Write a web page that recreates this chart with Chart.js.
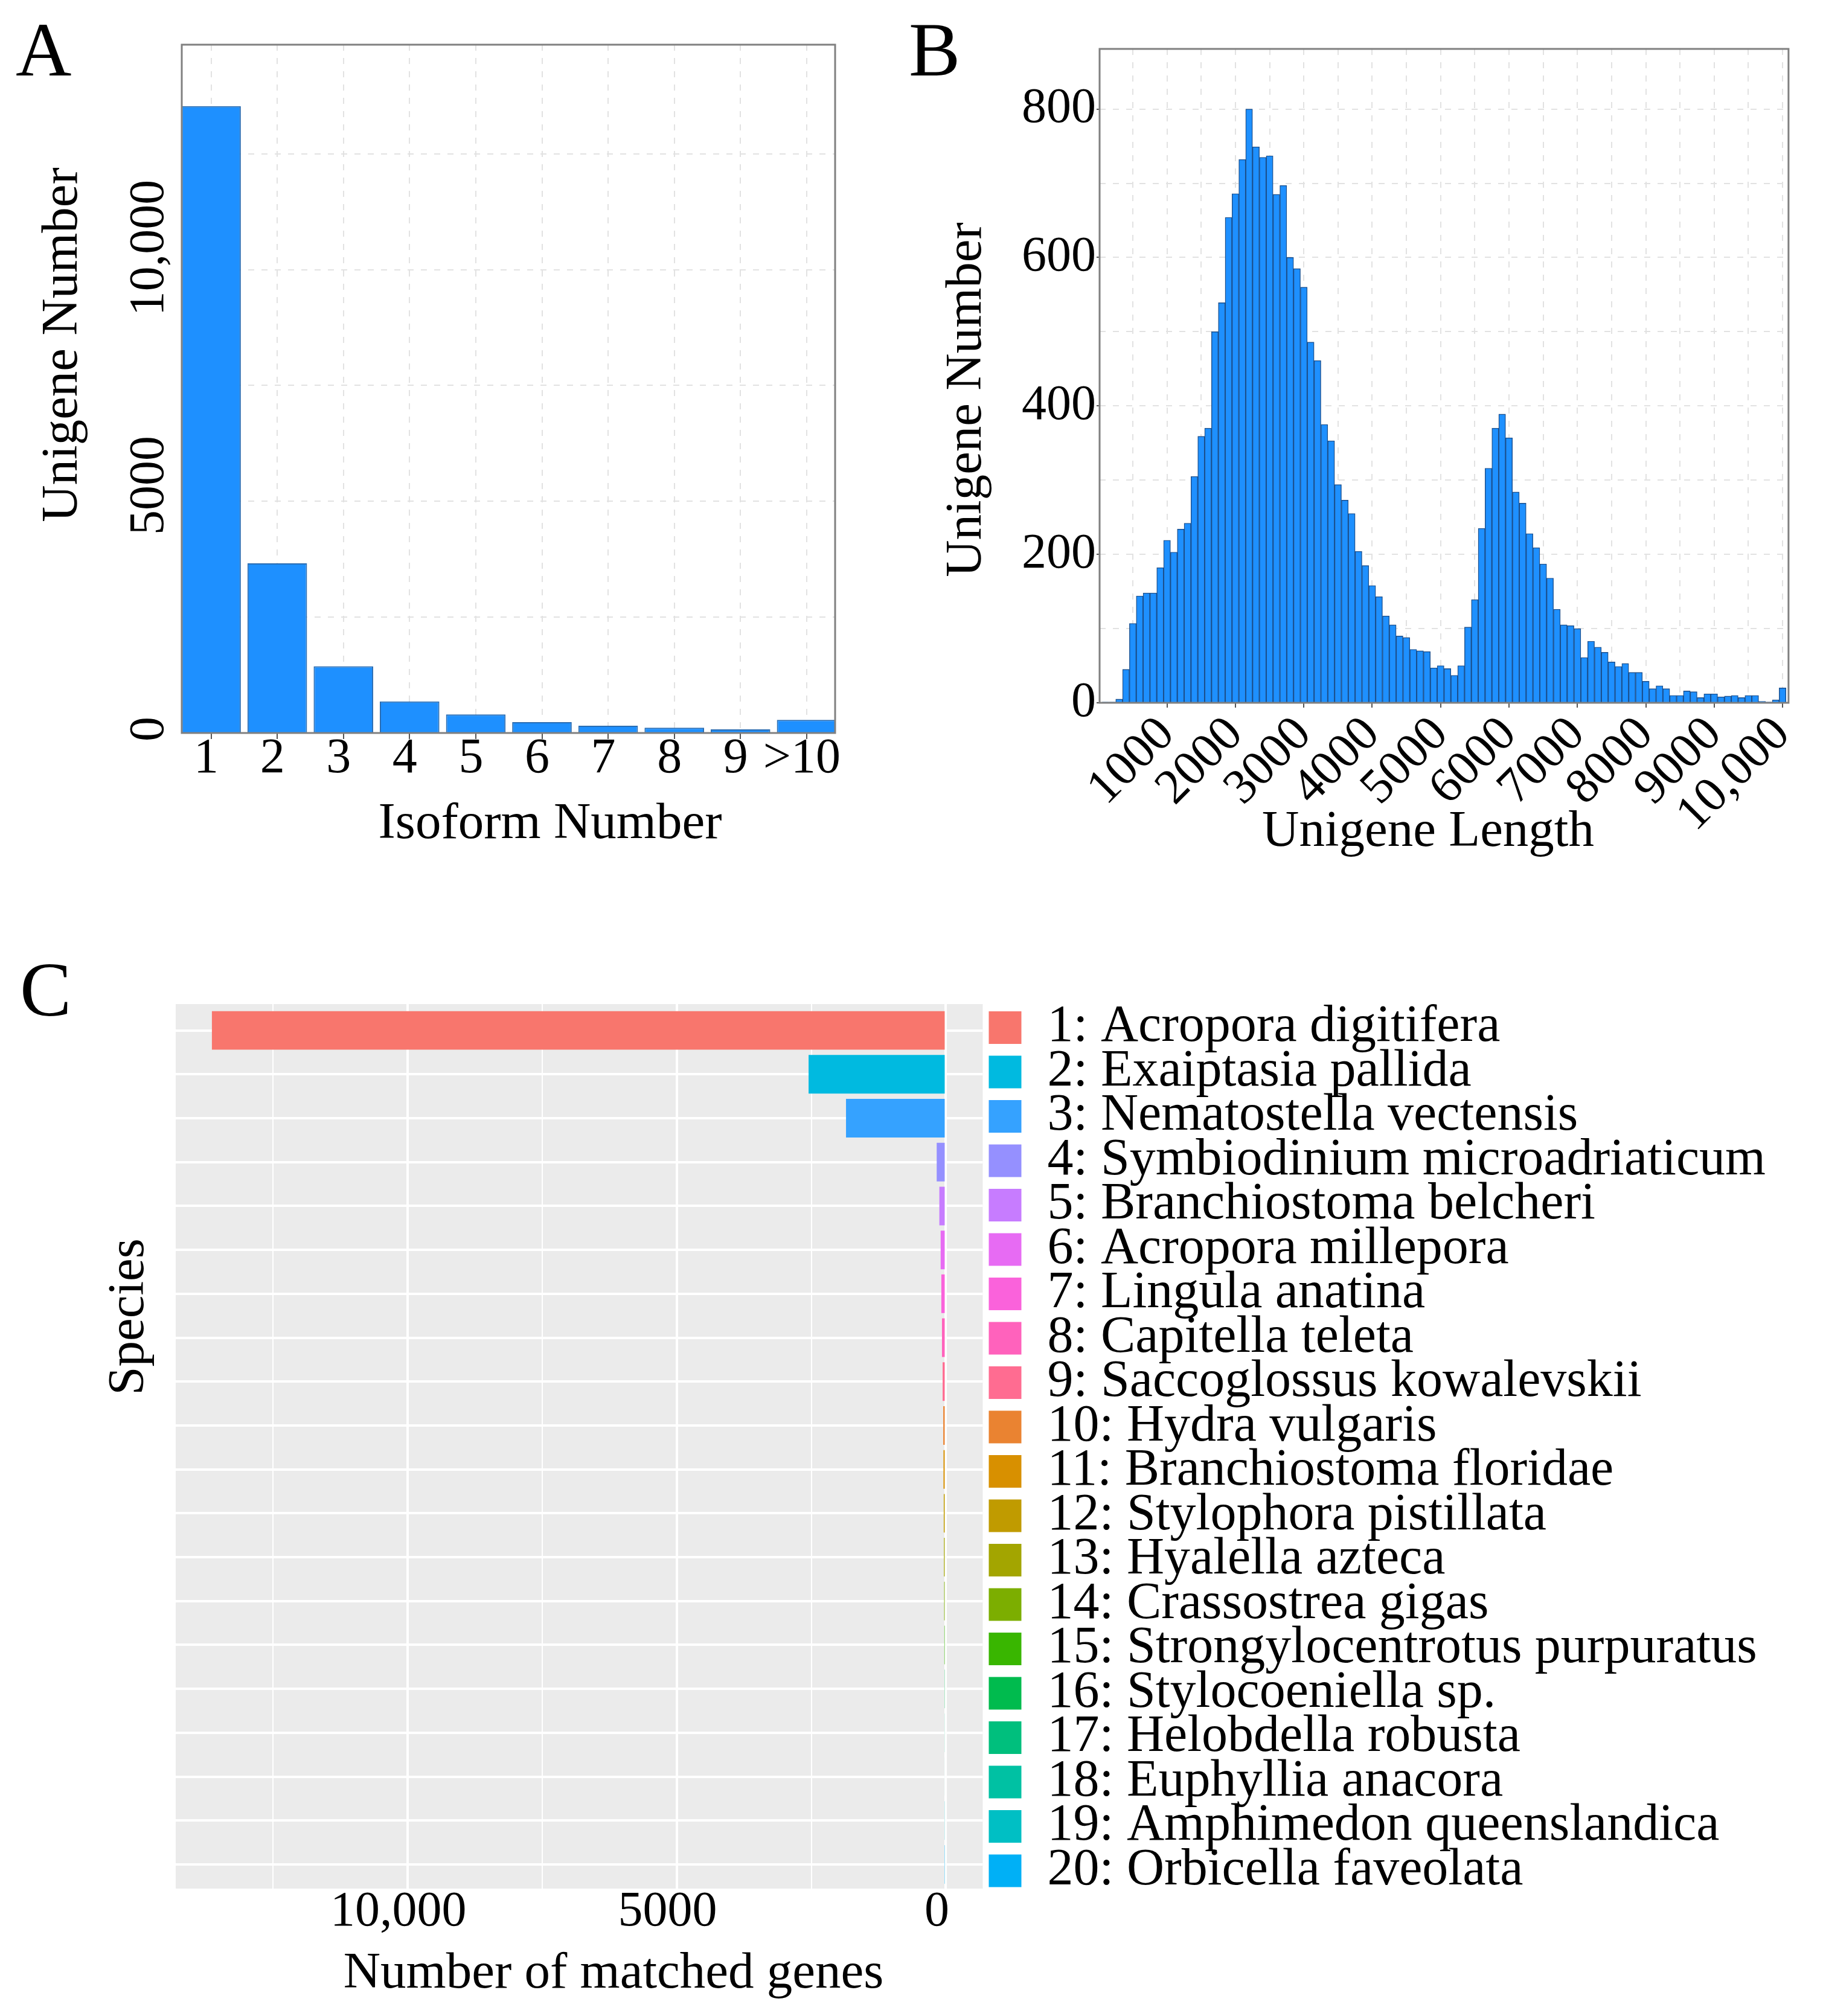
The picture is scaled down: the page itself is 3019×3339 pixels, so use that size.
<!DOCTYPE html>
<html lang="en">
<head>
<meta charset="utf-8">
<title>Isoforms, unigene lengths and matched species</title>
<script src="https://cdn.jsdelivr.net/npm/chart.js@4.4.1/dist/chart.umd.min.js"></script>
<style>
  html, body { margin: 0; padding: 0; background: #ffffff; }
  #figure { position: relative; width: 3019px; height: 3339px; overflow: hidden; }
  #figure canvas { position: absolute; }
</style>
</head>
<body>
<div id="figure">
  <canvas id="chartA" width="1500" height="1500" style="left:0;top:0;width:1500px;height:1500px"></canvas>
  <canvas id="chartB" width="1519" height="1500" style="left:1500px;top:0;width:1519px;height:1500px"></canvas>
  <canvas id="chartC" width="3019" height="1779" style="left:0;top:1560px;width:3019px;height:1779px"></canvas>
</div>
<script>
// ---- A: unigenes per isoform count ----
const isoformLabels = ['1', '2', '3', '4', '5', '6', '7', '8', '9', '>10'];
const isoformCounts = [13530, 3660, 1440, 680, 400, 235, 155, 115, 78, 283];
const isoformYTicks = [0, 5000, 10000];
const isoformYTickLabels = ['0', '5000', '10,000'];
const isoformGrid = [0, 2500, 5000, 7500, 10000, 12500];

// ---- B: unigene length histogram (bin centres, 100 bp bins) ----
const lengthBins = [
  100, 200, 300, 400, 500, 600, 700, 800, 900, 1000,
  1100, 1200, 1300, 1400, 1500, 1600, 1700, 1800, 1900, 2000,
  2100, 2200, 2300, 2400, 2500, 2600, 2700, 2800, 2900, 3000,
  3100, 3200, 3300, 3400, 3500, 3600, 3700, 3800, 3900, 4000,
  4100, 4200, 4300, 4400, 4500, 4600, 4700, 4800, 4900, 5000,
  5100, 5200, 5300, 5400, 5500, 5600, 5700, 5800, 5900, 6000,
  6100, 6200, 6300, 6400, 6500, 6600, 6700, 6800, 6900, 7000,
  7100, 7200, 7300, 7400, 7500, 7600, 7700, 7800, 7900, 8000,
  8100, 8200, 8300, 8400, 8500, 8600, 8700, 8800, 8900, 9000,
  9100, 9200, 9300, 9400, 9500, 9600, 9700, 9800, 9900, 10000
];
const lengthCounts = [
  1, 1, 5, 45, 107, 144, 148, 148, 182, 219,
  203, 234, 242, 305, 359, 370, 500, 539, 654, 686,
  732, 800, 749, 735, 737, 685, 697, 600, 585, 560,
  486, 461, 375, 353, 294, 273, 255, 204, 185, 158,
  143, 117, 105, 90, 88, 72, 70, 69, 47, 50,
  46, 37, 50, 102, 139, 235, 316, 370, 389, 357,
  284, 269, 228, 209, 187, 168, 126, 105, 104, 100,
  61, 83, 75, 68, 55, 49, 53, 41, 41, 29,
  19, 23, 19, 10, 10, 16, 15, 7, 12, 12,
  8, 9, 10, 7, 10, 10, 2, 1, 4, 20
];
const lengthXTicks = [1000, 2000, 3000, 4000, 5000, 6000, 7000, 8000, 9000, 10000];
const lengthXTickLabels = ['1000', '2000', '3000', '4000', '5000', '6000', '7000', '8000', '9000', '10,000'];
const lengthYTicks = [0, 200, 400, 600, 800];
const lengthYTickLabels = ['0', '200', '400', '600', '800'];
const lengthGridX = [500, 1000, 1500, 2000, 2500, 3000, 3500, 4000, 4500, 5000,
  5500, 6000, 6500, 7000, 7500, 8000, 8500, 9000, 9500, 10000];
const lengthGridY = [0, 100, 200, 300, 400, 500, 600, 700, 800];

// ---- C: matched genes per species ----
const speciesNames = [
  'Acropora digitifera', 'Exaiptasia pallida', 'Nematostella vectensis',
  'Symbiodinium microadriaticum', 'Branchiostoma belcheri', 'Acropora millepora',
  'Lingula anatina', 'Capitella teleta', 'Saccoglossus kowalevskii', 'Hydra vulgaris',
  'Branchiostoma floridae', 'Stylophora pistillata', 'Hyalella azteca', 'Crassostrea gigas',
  'Strongylocentrotus purpuratus', 'Stylocoeniella sp.', 'Helobdella robusta',
  'Euphyllia anacora', 'Amphimedon queenslandica', 'Orbicella faveolata'
];
const speciesCounts = [13630, 2550, 1855, 171, 122, 98, 85, 73, 61, 49,
  45, 40, 36, 32, 29, 26, 24, 22, 20, 18];
const matchedXTicks = [0, 5000, 10000];
const matchedXTickLabels = ['0', '5000', '10,000'];
const matchedGrid = [0, 2500, 5000, 7500, 10000, 12500];

// ---- styles ----
const SERIF = "'Liberation Serif', 'Times New Roman', serif";
const BAR_BLUE = '#1E90FF';
const DASHED_GRID = '#e2e2e2';
const speciesColors = ['#F8766D', '#00BAE0', '#35A2FF', '#9590FF', '#C77CFF', '#E76BF3',
  '#FA62DB', '#FF62BC', '#FF6C91', '#EA8331', '#D89000', '#C09B00', '#A3A500', '#7CAE00',
  '#39B600', '#00BB4E', '#00BF7D', '#00C1A3', '#00BFC4', '#00B0F6'];

Chart.defaults.font.family = SERIF;
Chart.defaults.font.size = 82;
Chart.defaults.color = '#000';
Chart.defaults.animation = false;

const setTicks = values => scale => { scale.ticks = values.map(value => ({ value })); };
const labelFrom = (values, labels) => v => {
  const i = values.indexOf(v);
  return i < 0 ? '' : labels[i];
};
const markOnly = values => c => (c.tick && values.includes(c.tick.value)) ? '#555' : 'rgba(0,0,0,0)';

// grey panel fill (C) or panel outline (A, B)
const panelFrame = {
  id: 'panelFrame',
  beforeDraw(chart, args, opts) {
    if (!opts.fill) return;
    const { ctx, chartArea: a } = chart;
    ctx.save();
    ctx.fillStyle = opts.fill;
    ctx.fillRect(a.left, a.top, a.width, a.height);
    ctx.restore();
  },
  afterDraw(chart, args, opts) {
    if (!opts.stroke) return;
    const { ctx, chartArea: a } = chart;
    ctx.save();
    ctx.strokeStyle = opts.stroke;
    ctx.lineWidth = opts.width || 3;
    ctx.strokeRect(a.left, a.top, a.width, a.height);
    ctx.restore();
  }
};

// panel letter and axis titles where the figure puts them
const panelText = {
  id: 'panelText',
  afterDraw(chart, args, opts) {
    const ctx = chart.ctx;
    (opts.items || []).forEach(t => {
      ctx.save();
      ctx.font = `${t.size || 85}px ${SERIF}`;
      ctx.fillStyle = '#000';
      ctx.textAlign = t.align || 'center';
      ctx.textBaseline = 'alphabetic';
      ctx.translate(t.x, t.y);
      if (t.vertical) ctx.rotate(-Math.PI / 2);
      ctx.fillText(t.text, 0, 0);
      ctx.restore();
    });
  }
};

// panel A has its y tick labels turned upright
const uprightTicks = {
  id: 'uprightTicks',
  afterDraw(chart, args, opts) {
    const scale = chart.scales.y;
    const ctx = chart.ctx;
    ctx.save();
    ctx.font = `82px ${SERIF}`;
    ctx.fillStyle = '#000';
    ctx.textAlign = 'left';
    ctx.textBaseline = 'alphabetic';
    opts.values.forEach((v, i) => {
      const label = opts.labels[i];
      const w = ctx.measureText(label).width;
      ctx.save();
      ctx.translate(opts.x, scale.getPixelForValue(v) + w * opts.shift);
      ctx.rotate(-Math.PI / 2);
      ctx.fillText(label, 0, 0);
      ctx.restore();
    });
    ctx.restore();
  }
};

// A
new Chart(document.getElementById('chartA'), {
  type: 'bar',
  data: {
    datasets: [{
      data: isoformLabels.map((_, i) => ({ x: i + 1, y: isoformCounts[i] })),
      backgroundColor: BAR_BLUE,
      borderColor: '#2a6db3',
      borderWidth: 2,
      barPercentage: 0.9,
      categoryPercentage: 1
    }]
  },
  options: {
    responsive: false,
    devicePixelRatio: 1,
    layout: { padding: { top: 74, right: 117, bottom: 0, left: 0 } },
    plugins: {
      legend: { display: false },
      tooltip: { enabled: false },
      panelFrame: { stroke: '#808080', width: 3 },
      uprightTicks: { values: isoformYTicks, labels: isoformYTickLabels, x: 270, shift: 0.34 },
      panelText: { items: [
        { text: 'A', x: 26, y: 125, size: 128, align: 'left' },
        { text: 'Unigene Number', x: 127, y: 571, vertical: true },
        { text: 'Isoform Number', x: 911, y: 1388 }
      ] }
    },
    scales: {
      x: {
        type: 'linear', offset: false, min: 0.557, max: 10.43,
        afterBuildTicks: setTicks(isoformLabels.map((_, i) => i + 1)),
        afterFit: s => { s.height = 286; },
        ticks: { callback: v => isoformLabels[v - 1], padding: -16, labelOffset: -8, autoSkip: false, maxRotation: 0 },
        grid: { offset: false, color: DASHED_GRID, lineWidth: 2, tickLength: 10, tickWidth: 2, tickColor: '#555' },
        border: { display: false, dash: [10, 12] }
      },
      y: {
        type: 'linear', min: 0, max: 14855,
        afterBuildTicks: setTicks(isoformGrid),
        afterFit: s => { s.width = 301; },
        ticks: { display: false },
        grid: { color: DASHED_GRID, lineWidth: 2, drawTicks: false },
        border: { display: false, dash: [10, 12] }
      }
    }
  },
  plugins: [panelFrame, uprightTicks, panelText]
});

// B
new Chart(document.getElementById('chartB'), {
  type: 'bar',
  data: {
    datasets: [{
      data: lengthBins.map((b, i) => ({ x: b, y: lengthCounts[i] })),
      backgroundColor: BAR_BLUE,
      borderColor: '#1b4f8c',
      borderWidth: 1.4,
      barPercentage: 1,
      categoryPercentage: 1
    }]
  },
  options: {
    responsive: false,
    devicePixelRatio: 1,
    layout: { padding: { top: 81, right: 44, bottom: 0, left: 0 } },
    plugins: {
      legend: { display: false },
      tooltip: { enabled: false },
      panelFrame: { stroke: '#808080', width: 3 },
      panelText: { items: [
        { text: 'B', x: 5, y: 125, size: 128, align: 'left' },
        { text: 'Unigene Number', x: 124, y: 662, vertical: true },
        { text: 'Unigene Length', x: 865, y: 1401 }
      ] }
    },
    scales: {
      x: {
        type: 'linear', offset: false, min: 14, max: 10087,
        afterBuildTicks: setTicks(lengthGridX),
        afterFit: s => { s.height = 336; },
        ticks: { callback: labelFrom(lengthXTicks, lengthXTickLabels), minRotation: 45, maxRotation: 45, padding: -3, autoSkip: false },
        grid: { offset: false, color: DASHED_GRID, lineWidth: 2, tickLength: 8, tickWidth: 2, tickColor: markOnly(lengthXTicks) },
        border: { display: false, dash: [10, 12] }
      },
      y: {
        type: 'linear', min: 0, max: 881,
        afterBuildTicks: setTicks(lengthGridY),
        afterFit: s => { s.width = 321; },
        ticks: { callback: labelFrom(lengthYTicks, lengthYTickLabels), padding: 1, autoSkip: false },
        grid: { color: DASHED_GRID, lineWidth: 2, tickLength: 5, tickWidth: 2, tickColor: markOnly(lengthYTicks) },
        border: { display: false, dash: [10, 12] }
      }
    }
  },
  plugins: [panelFrame, panelText]
});

// C
const LEGEND_FONT = 86;
const LEGEND_KEY = 54;
const LEGEND_PAD = -12.5;                  // rows closer than the font size
const LEGEND_BOX = LEGEND_KEY - LEGEND_PAD; // the first 12.5 px of each key fall outside the legend clip
const legendTexts = speciesNames.map((name, i) => `${i + 1}: ${name}`);
// give the legend exactly its natural width, and size the right padding so the panel ends where the figure's does
const measure = document.createElement('canvas').getContext('2d');
measure.font = `${LEGEND_FONT}px ${SERIF}`;
const widestLegendText = Math.max(...legendTexts.map(t => measure.measureText(t).width));
const legendWidth = Math.ceil(LEGEND_PAD + LEGEND_BOX + LEGEND_FONT / 2 + widestLegendText + 10);
const PANEL_C_RIGHT = 1627;
const LEGEND_GAP = 10;

new Chart(document.getElementById('chartC'), {
  type: 'bar',
  data: {
    datasets: [{
      data: speciesCounts.map((v, i) => ({ x: v, y: i })),
      backgroundColor: speciesColors,
      borderWidth: 0,
      barPercentage: 0.88,
      categoryPercentage: 1,
      xAxisID: 'x',
      yAxisID: 'y'
    }]
  },
  options: {
    indexAxis: 'y',
    responsive: false,
    devicePixelRatio: 1,
    layout: { padding: { top: 103, right: 3019 - PANEL_C_RIGHT - LEGEND_GAP - legendWidth, bottom: 0, left: 0 } },
    plugins: {
      tooltip: { enabled: false },
      legend: {
        position: 'right',
        align: 'start',
        fullSize: true,
        maxWidth: legendWidth,
        title: { display: true, text: '', padding: 0, font: { size: 7 } },
        labels: {
          font: { size: LEGEND_FONT },
          boxWidth: LEGEND_BOX,
          boxHeight: LEGEND_KEY,
          padding: LEGEND_PAD,
          generateLabels: () => legendTexts.map((text, i) => ({
            text,
            fillStyle: speciesColors[i],
            strokeStyle: speciesColors[i],
            lineWidth: 0,
            hidden: false,
            datasetIndex: 0,
            index: i
          }))
        }
      },
      panelFrame: { fill: '#EBEBEB' },
      panelText: { items: [
        { text: 'C', x: 33, y: 122, size: 128, align: 'left' },
        { text: 'Species', x: 237, y: 621, vertical: true },
        { text: 'Number of matched genes', x: 1016, y: 1732 }
      ] }
    },
    scales: {
      x: {
        type: 'linear', reverse: true, min: -684, max: 14302,
        afterBuildTicks: setTicks(matchedGrid),
        afterFit: s => { s.height = 211; },
        ticks: { callback: labelFrom(matchedXTicks, matchedXTickLabels), padding: -10, labelOffset: -15, autoSkip: false, maxRotation: 0 },
        grid: { color: '#ffffff', lineWidth: c => (c.tick && c.tick.value % 5000 === 0) ? 4 : 2, drawTicks: false },
        border: { display: false }
      },
      y: {
        type: 'linear', reverse: true, offset: false, min: -0.6, max: 19.55,
        afterBuildTicks: setTicks(speciesNames.map((_, i) => i)),
        afterFit: s => { s.width = 291; },
        ticks: { display: false },
        grid: { offset: false, color: '#ffffff', lineWidth: 4, drawTicks: false },
        border: { display: false }
      },
      gap: {
        type: 'linear', position: 'right',
        afterFit: s => { s.width = LEGEND_GAP; },
        ticks: { display: false },
        grid: { display: false },
        border: { display: false }
      }
    }
  },
  plugins: [panelFrame, panelText]
});
</script>
</body>
</html>
